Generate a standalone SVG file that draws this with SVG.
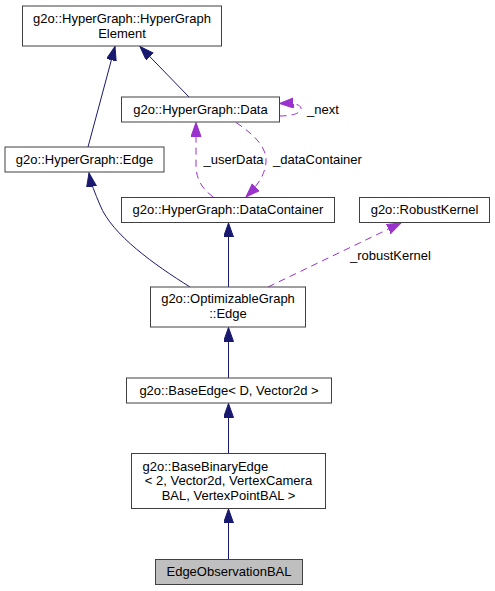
<svg xmlns="http://www.w3.org/2000/svg" width="495" height="591" viewBox="0 0 495 591">
<style>
.box{fill:#ffffff;stroke:#404040;stroke-width:1}
.t{font-family:"Liberation Sans",Arial,sans-serif;font-size:13px;fill:#000000}
.m{text-anchor:middle}
.inh{fill:none;stroke:#191970;stroke-width:1;marker-end:url(#an)}
.use{fill:none;stroke:#9a32cd;stroke-width:1;stroke-dasharray:7,5;marker-end:url(#ap)}
</style>
<defs>
<marker id="an" markerUnits="userSpaceOnUse" markerWidth="16" markerHeight="12" refX="14" refY="5" orient="auto">
<path d="M0,0 L14,5 L0,10 z" style="fill:#191970;stroke:#191970;stroke-width:1;stroke-dasharray:none"/>
</marker>
<marker id="ap" markerUnits="userSpaceOnUse" markerWidth="16" markerHeight="12" refX="14" refY="5" orient="auto">
<path d="M0,0 L14,5 L0,10 z" style="fill:#9a32cd;stroke:#9a32cd;stroke-width:1;stroke-dasharray:none"/>
</marker>
</defs>
<rect width="495" height="591" fill="#ffffff"/>
<g id="connectors">
<path class="inh" d="M228.5,559 L228.5,509"/>
<path class="inh" d="M228.5,453.5 L228.5,403.5"/>
<path class="inh" d="M228.5,378 L228.5,327.5"/>
<path class="inh" d="M228.5,287 L228.5,223"/>
<path class="inh" d="M190,287 C155,265 112,235 100,205 C95,193 91,184 89,173"/>
<path class="inh" d="M88,147 L115,46.5"/>
<path class="inh" d="M189,97 L140,46.5"/>
<path class="use" d="M279.5,116 C295,116 302,112 301,108 C300,104 293,103 279.5,103.5"/>
<path class="use" d="M213,197 C204,190 196,181 196,165 L196,122.5"/>
<path class="use" d="M236,122.5 C255,135 267,148 266,162 C265,176 256,187 246,197"/>
<path class="use" d="M268,287 L401,223"/>
<text class="t" x="307" y="113.5">_next</text>
<text class="t" x="203.5" y="163.5">_userData</text>
<text class="t" x="273" y="163.5">_dataContainer</text>
<text class="t" x="350" y="259.5">_robustKernel</text>
</g>
<g id="node_element">
<rect class="box" x="22.5" y="6" width="199" height="40"/>
<text class="t m" x="122" y="22.5">g2o::HyperGraph::HyperGraph</text>
<text class="t m" x="122" y="37.5">Element</text>
</g>
<g id="node_data">
<rect class="box" x="121.5" y="97" width="158" height="25"/>
<text class="t m" x="200.5" y="114">g2o::HyperGraph::Data</text>
</g>
<g id="node_hgedge">
<rect class="box" x="5" y="147" width="159" height="25"/>
<text class="t m" x="84.5" y="164">g2o::HyperGraph::Edge</text>
</g>
<g id="node_datacontainer">
<rect class="box" x="121.5" y="197.5" width="213" height="25"/>
<text class="t m" x="228" y="214">g2o::HyperGraph::DataContainer</text>
</g>
<g id="node_robustkernel">
<rect class="box" x="359.5" y="197.5" width="130" height="25"/>
<text class="t m" x="424.5" y="214">g2o::RobustKernel</text>
</g>
<g id="node_optedge">
<rect class="box" x="150.5" y="287" width="155" height="40"/>
<text class="t m" x="228" y="303">g2o::OptimizableGraph</text>
<text class="t m" x="228" y="318">::Edge</text>
</g>
<g id="node_baseedge">
<rect class="box" x="126.5" y="378" width="205" height="25"/>
<text class="t m" x="229" y="395">g2o::BaseEdge&lt; D, Vector2d &gt;</text>
</g>
<g id="node_basebinaryedge">
<rect class="box" x="131.5" y="453.5" width="194" height="55"/>
<text class="t" x="142.5" y="470.5">g2o::BaseBinaryEdge</text>
<text class="t m" x="228.5" y="485">&lt; 2, Vector2d, VertexCamera</text>
<text class="t m" x="228.5" y="499.5">BAL, VertexPointBAL &gt;</text>
</g>
<g id="node_edgeobservationbal">
<rect class="box" x="155.5" y="559.5" width="147" height="25" style="fill:#bfbfbf"/>
<text class="t m" x="229" y="576">EdgeObservationBAL</text>
</g>
</svg>
